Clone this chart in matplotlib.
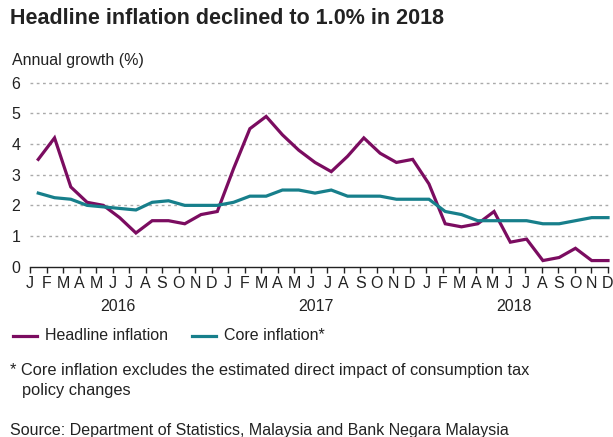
import numpy as np
import matplotlib
matplotlib.use('Agg')
import matplotlib.pyplot as plt
from matplotlib.lines import Line2D

plt.rcParams['font.family'] = ['Liberation Sans', 'DejaVu Sans']

# Monthly annual growth (%), Jan 2016 - Dec 2018
months = list('JFMAMJJASOND') * 3
years = ['2016', '2017', '2018']
headline = [3.5, 4.2, 2.6, 2.1, 2.0, 1.6, 1.1, 1.5, 1.5, 1.4, 1.7, 1.8,
            3.2, 4.5, 4.9, 4.3, 3.8, 3.4, 3.1, 3.6, 4.2, 3.7, 3.4, 3.5,
            2.7, 1.4, 1.3, 1.4, 1.8, 0.8, 0.9, 0.2, 0.3, 0.6, 0.2, 0.2]
core = [2.4, 2.25, 2.2, 2.0, 1.95, 1.9, 1.85, 2.1, 2.15, 2.0, 2.0, 2.0,
        2.1, 2.3, 2.3, 2.5, 2.5, 2.4, 2.5, 2.3, 2.3, 2.3, 2.2, 2.2,
        2.2, 1.8, 1.7, 1.5, 1.5, 1.5, 1.5, 1.4, 1.4, 1.5, 1.6, 1.6]

purple = '#7b0c60'
teal = '#177f8b'
grey = '#222222'

W, H = 613, 437
fig = plt.figure(figsize=(W / 100, H / 100), dpi=100)

def px(x, y):
    return x / W, 1 - y / H

ax = fig.add_axes([30 / W, 1 - 266.7 / H, 578 / W, 184 / H])

x = np.linspace(0.5, 35, len(headline))
ax.plot(x, headline, color=purple, lw=2.3, clip_on=False, zorder=3,
        solid_joinstyle='miter')
ax.plot(x, core, color=teal, lw=2.3, clip_on=False, zorder=3,
        solid_joinstyle='miter')

ax.set_xlim(0, 35)
ax.set_ylim(0, 6)
ax.set_yticks(range(7))
ax.set_xticks(range(36))
ax.set_xticklabels(months)
for v in range(1, 7):
    ax.axhline(v, color='#aaaaaa', lw=1, ls=(0, (2, 2.5)), zorder=1,
               xmax=1.004, clip_on=False)

for s in ['top', 'right', 'left']:
    ax.spines[s].set_visible(False)
ax.spines['bottom'].set_color(grey)
ax.spines['bottom'].set_linewidth(1)
ax.tick_params(axis='y', length=0, pad=7, labelsize=11.5, labelcolor=grey)
ax.tick_params(axis='x', length=4, width=1, color=grey, pad=3,
               labelsize=11.5, labelcolor=grey)

for i, yr in enumerate(years):
    ax.text(5.3 + 12 * i, -0.214, yr, transform=ax.get_xaxis_transform(),
            ha='center', va='center', fontsize=11.5, color=grey)

fig.text(*px(10, 19), 'Headline inflation declined to 1.0% in 2018',
         fontsize=15.5, fontweight='bold', color=grey, va='center')
fig.text(*px(12, 61), 'Annual growth (%)', fontsize=11.5, color=grey,
         va='center')

# legend drawn by hand in figure coordinates
for (x0, label, c) in [(13, 'Headline inflation', purple),
                       (192, 'Core inflation*', teal)]:
    fig.add_artist(Line2D([x0 / W, (x0 + 24) / W],
                          [1 - 336 / H, 1 - 336 / H], color=c, lw=2.3))
    fig.text(*px(x0 + 32, 336), label, fontsize=11.5, color=grey,
             va='center')

fig.text(*px(10, 370), '* Core inflation excludes the estimated direct impact '
         'of consumption tax', fontsize=11.8, color=grey, va='center')
fig.text(*px(22, 390), 'policy changes', fontsize=11.8, color=grey,
         va='center')
fig.text(*px(10, 430), 'Source: Department of Statistics, Malaysia and '
         'Bank Negara Malaysia', fontsize=11.5, color=grey, va='center')

fig.savefig('out.png', dpi=100, facecolor='white')
